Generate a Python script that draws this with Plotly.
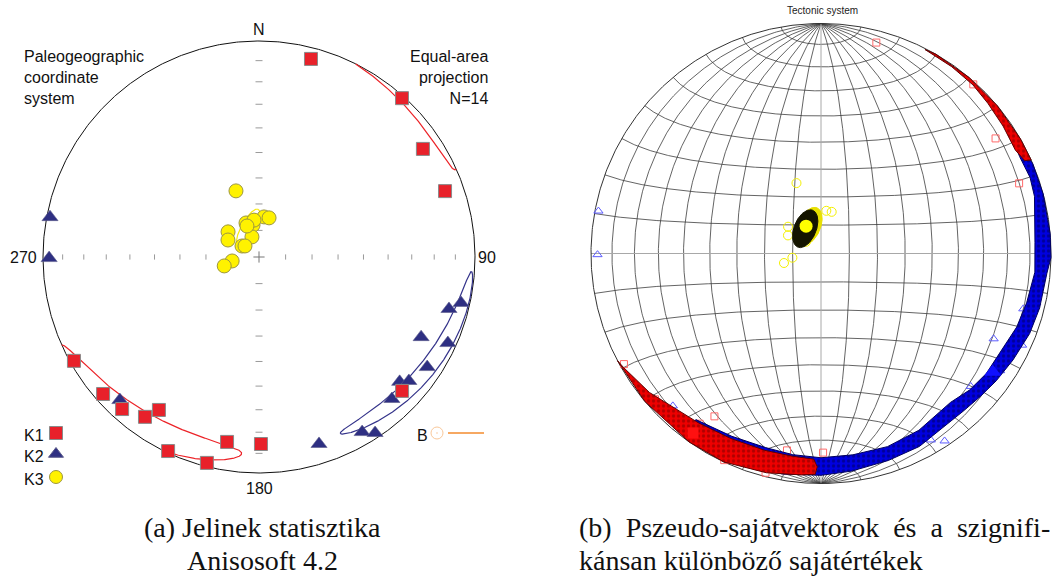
import numpy as np
import plotly.graph_objects as go

# ---- principal susceptibility axes of the 14 specimens (declination, inclination; degrees) ----
k1_dec = [14.7, 42.0, 56.6, 70.5, 240.7, 228.7, 222.0, 215.5, 213.2, 189.8, 179.4, 205.1, 194.2, 133.1]
k1_inc = [5.8, 1.2, 10.0, 9.5, 2.0, 4.4, 5.9, 10.0, 16.5, 14.2, 14.5, 0.9, 1.9, 10.2]
k2_dec = [280.8, 269.7, 102.8, 105.3, 116.3, 114.5, 123.2, 131.6, 129.6, 136.9, 224.2, 149.5, 146.6, 162.2]
k2_inc = [1.7, 3.2, 4.6, 9.7, 17.4, 4.4, 7.7, 14.0, 10.9, 10.9, 8.4, 6.6, 2.7, 10.0]
k3_dec = [340.8, 7.1, 14.4, 339.1, 349.4, 309.1, 298.7, 340.7, 302.9, 308.2, 261.6, 255.6, 352.3, 338.8]
k3_inc = [63.5, 74.8, 74.8, 76.3, 77.8, 75.0, 76.7, 82.0, 82.4, 83.3, 79.8, 76.5, 76.0, 77.5]

# ---- Jelinek mean axes and confidence ellipses (centre, semi-angles, tilt of the major axis) ----
ell_dec = [215.8, 124.3, 339.2]
ell_inc = [5.2, 7.3, 78.3]
ell_a = [30.8, 30.8, 8.0]
ell_b = [7.0, 4.0, 2.5]
ell_rot = [-10.2, 9.3, -41.0]

# ---- pseudo-eigenvector means ----
mean_dec = [215.5, 124.6, 331.4]
mean_inc = [4.7, 10.2, 79.0]

# ---- bootstrap clouds (outline of the pseudo-eigenvector swarms) ----
k1_ne_dec = [27, 35, 42, 48, 55, 59, 62, 65.5, 66, 60, 50, 40, 30, 27]
k1_ne_inc = [0.5, 1.0, 1.5, 2.7, 3.8, 4.6, 4.8, 3.0, 0, 0, 0, 0, 0, 0.5]
k1_sw_dec = [242.2, 240, 231, 222, 216, 206, 196, 188, 182, 181, 181.5, 185, 194, 205, 215, 230, 242.2]
k1_sw_inc = [0, 1, 4.5, 8.5, 10, 11.5, 12, 12, 11.5, 8, 4.5, 3.8, 2, 0, 0, 0, 0]
k2_cloud_dec = [61, 64, 67, 75, 85, 91, 95, 104, 111, 119, 126, 132, 138, 145, 153, 162, 172, 180, 190, 205, 217,
                217, 206, 196, 188, 180, 171, 161, 151, 139, 132.5, 126, 120.5, 110.6, 103.5, 95, 87, 80, 75, 70, 64, 61]
k2_cloud_inc = [3.8, 1, 0, 0, 0, 0, 1.6, 2.3, 3.2, 5.1, 6.5, 7.7, 8.5, 8.5, 6.5, 6, 5, 4, 3, 3, 6,
                10.5, 12.6, 13.3, 12.7, 12.2, 12.4, 12.2, 13.2, 15.3, 13.3, 12.2, 12.3, 10, 8.9, 7.4, 7.6, 6.3, 4.4, 3.7, 4.4, 3.8]
# K3 swarm: elliptical clouds (centre dec, inc, semi-angles, tilt)
k3_cloud = [(337.0, 79.5, 7.0, 3.9, -45.0), (327.5, 79.6, 7.0, 3.9, -36.0)]

inc_ticks = [10, 20, 30, 40, 50, 60, 70, 80]


def to_lower(dec, inc):
    dec = np.asarray(dec, float)
    inc = np.asarray(inc, float)
    up = inc < 0
    return np.where(up, dec + 180, dec) % 360, np.abs(inc)


def schmidt(dec, inc):
    """Lower-hemisphere equal-area projection, primitive radius 1."""
    dec, inc = to_lower(dec, inc)
    r = np.sqrt(2) * np.sin(np.radians(90 - inc) / 2)
    d = np.radians(dec)
    return r * np.sin(d), r * np.cos(d)


def split(x, y, jump=0.3):
    xs, ys = [x[0]], [y[0]]
    for i in range(1, len(x)):
        if np.hypot(x[i] - x[i - 1], y[i] - y[i - 1]) > jump:
            xs.append(None)
            ys.append(None)
        xs.append(x[i])
        ys.append(y[i])
    return xs, ys


def cone(dec0, inc0, a, b, rot, n=721):
    D, I = np.radians(dec0), np.radians(inc0)
    m = np.array([np.cos(I) * np.cos(D), np.cos(I) * np.sin(D), np.sin(I)])
    e_dec = np.array([-np.sin(D), np.cos(D), 0.0])
    e_inc = np.array([-np.sin(I) * np.cos(D), -np.sin(I) * np.sin(D), np.cos(I)])
    g = np.radians(rot)
    e1 = np.cos(g) * e_dec + np.sin(g) * e_inc
    e2 = -np.sin(g) * e_dec + np.cos(g) * e_inc
    t = np.linspace(0, 2 * np.pi, n)
    v = (m[:, None] + np.tan(np.radians(a)) * np.cos(t) * e1[:, None]
         + np.tan(np.radians(b)) * np.sin(t) * e2[:, None])
    v /= np.linalg.norm(v, axis=0)
    dec = np.degrees(np.arctan2(v[1], v[0])) % 360
    inc = np.degrees(np.arcsin(v[2]))
    return dec, inc


fig = go.Figure()

# =================== (a) Jelinek statistics panel ===================
LA = dict(xaxis="x", yaxis="y")
t = np.radians(np.linspace(0, 360, 721))
fig.add_trace(go.Scatter(x=np.sin(t), y=np.cos(t), mode="lines",
                         line=dict(color="#111111", width=1), hoverinfo="skip", **LA))

# inclination ticks along the N-S and E-W diameters
rt = np.sqrt(2) * np.sin(np.radians(90 - np.array(inc_ticks)) / 2)
tx, ty = [], []
h = 2.6 / 216
w = 3.5 / 216
for r in rt:
    for s in (-1, 1):
        tx += [s * r, s * r, None]
        ty += [-h, h, None]
        tx += [-w, w, None]
        ty += [s * r, s * r, None]
fig.add_trace(go.Scatter(x=tx, y=ty, mode="lines", line=dict(color="#9a9a9a", width=1),
                         hoverinfo="skip", **LA))
fig.add_trace(go.Scatter(x=[0], y=[0], mode="markers",
                         marker=dict(symbol="cross-thin", size=8, line=dict(color="#777777", width=1)),
                         hoverinfo="skip", **LA))

ell_cols = ["#ec2227", "#34338a", "#f7ea10"]
for i in range(3):
    d, ic = cone(ell_dec[i], ell_inc[i], ell_a[i], ell_b[i], ell_rot[i])
    x, y = schmidt(d, ic)
    xs, ys = split(x, y)
    fig.add_trace(go.Scatter(x=xs, y=ys, mode="lines", line=dict(color=ell_cols[i], width=1.2),
                             hoverinfo="skip", **LA))

x3, y3 = schmidt(k3_dec, k3_inc)
fig.add_trace(go.Scatter(x=x3, y=y3, mode="markers", name="K3",
                         marker=dict(symbol="circle", size=14, color="#fff200",
                                     line=dict(color="#9c9640", width=1)), **LA))
x2, y2 = schmidt(k2_dec, k2_inc)
fig.add_trace(go.Scatter(x=x2, y=y2, mode="markers", name="K2",
                         marker=dict(symbol="triangle-up", size=14, color="#2e2f82",
                                     line=dict(color="#5a5a8a", width=0.6)), **LA))
x1, y1 = schmidt(k1_dec, k1_inc)
fig.add_trace(go.Scatter(x=x1, y=y1, mode="markers", name="K1",
                         marker=dict(symbol="square", size=13, color="#e8212a",
                                     line=dict(color="#8a8a8a", width=1)), **LA))

# legend keys (text left, symbol right)
U = 216.0
def pa(px, py):
    return (px - 259) / U, (257 - py) / U

leg = [("K1", 433, "square", "#e8212a", "#8a8a8a", 13),
       ("K2", 454, "triangle-up", "#2e2f82", "#5a5a8a", 13),
       ("K3", 477, "circle", "#fff200", "#9c9640", 13)]
for name, py, sym, col, ec, sz in leg:
    kx, ky = pa(56, py)
    fig.add_trace(go.Scatter(x=[kx], y=[ky], mode="markers",
                             marker=dict(symbol=sym, size=sz, color=col, line=dict(color=ec, width=1)),
                             hoverinfo="skip", **LA))
    ax_, ay_ = pa(22, py + 2)
    fig.add_annotation(x=ax_, y=ay_, xref="x", yref="y", text=name, showarrow=False,
                       xanchor="left", yanchor="middle",
                       font=dict(family="Liberation Sans, Arial", size=16, color="#111"))

# bedding symbol "B"
bx, by = pa(437, 433)
fig.add_trace(go.Scatter(x=[bx], y=[by], mode="markers",
                         marker=dict(symbol="circle-dot", size=12, color="rgba(0,0,0,0)",
                                     line=dict(color="#f9c89a", width=1)), hoverinfo="skip", **LA))
l0 = pa(448, 433)
l1 = pa(484, 433)
fig.add_trace(go.Scatter(x=[l0[0], l1[0]], y=[l0[1], l1[1]], mode="lines",
                         line=dict(color="#f6a862", width=2), hoverinfo="skip", **LA))
p = pa(422, 435)
fig.add_annotation(x=p[0], y=p[1], xref="x", yref="y", text="B", showarrow=False,
                   xanchor="center", yanchor="middle",
                   font=dict(family="Liberation Sans, Arial", size=16, color="#111"))

sans = dict(family="Liberation Sans, Arial", size=16, color="#111")
for txt, px, py in [("N", 259, 29), ("270", 23.5, 257), ("90", 487, 257), ("180", 259, 488)]:
    q = pa(px, py)
    fig.add_annotation(x=q[0], y=q[1], xref="x", yref="y", text=txt, showarrow=False,
                       xanchor="center", yanchor="middle", font=sans)
q = pa(22, 77)
fig.add_annotation(x=q[0], y=q[1], xref="x", yref="y", text="Paleogeographic<br>coordinate<br>system",
                   showarrow=False, xanchor="left", yanchor="middle", align="left", font=sans)
q = pa(490, 77)
fig.add_annotation(x=q[0], y=q[1], xref="x", yref="y", text="Equal-area<br>projection<br>N=14",
                   showarrow=False, xanchor="right", yanchor="middle", align="right", font=sans)

# =================== (b) pseudo-eigenvector panel ===================
RB = dict(xaxis="x2", yaxis="y2")
gx, gy = [], []
lat = np.radians(np.linspace(-90, 90, 361))
for lon in range(-80, 81, 10):
    if lon == 0:
        continue
    l = np.radians(lon)
    k = 1 / np.sqrt(1 + np.cos(lat) * np.cos(l))
    gx += list(k * np.cos(lat) * np.sin(l)) + [None]
    gy += list(k * np.sin(lat)) + [None]
lon = np.radians(np.linspace(-90, 90, 361))
for la in range(-80, 81, 10):
    if la == 0:
        continue
    p_ = np.radians(la)
    k = 1 / np.sqrt(1 + np.cos(p_) * np.cos(lon))
    gx += list(k * np.cos(p_) * np.sin(lon)) + [None]
    gy += list(k * np.sin(p_) * np.ones_like(lon)) + [None]
fig.add_trace(go.Scatter(x=gx, y=gy, mode="lines", line=dict(color="#3c3c3c", width=0.8),
                         hoverinfo="skip", **RB))
fig.add_trace(go.Scatter(x=[-1, 1, None, 0, 0], y=[0, 0, None, -1, 1], mode="lines",
                         line=dict(color="#a8a8a8", width=1), hoverinfo="skip", **RB))
fig.add_trace(go.Scatter(x=np.sin(t), y=np.cos(t), mode="lines",
                         line=dict(color="#333333", width=1), hoverinfo="skip", **RB))

# individual specimen axes (open symbols)
fig.add_trace(go.Scatter(x=x3, y=y3, mode="markers",
                         marker=dict(symbol="circle-open", size=9, color="#f4f000", line=dict(width=1)), **RB))
fig.add_trace(go.Scatter(x=x2, y=y2, mode="markers",
                         marker=dict(symbol="triangle-up-open", size=8, color="#5c5cff", line=dict(width=1)), **RB))
fig.add_trace(go.Scatter(x=x1, y=y1, mode="markers",
                         marker=dict(symbol="square-open", size=7, color="#ff6a6a", line=dict(width=1)), **RB))

# bootstrap swarms
bx_, by_ = schmidt(k2_cloud_dec, k2_cloud_inc)
fig.add_trace(go.Scatter(x=bx_, y=by_, mode="lines", fill="toself", fillcolor="#0000d8",
                         line=dict(color="#000060", width=1),
                         fillpattern=dict(shape=".", fgcolor="#000050", bgcolor="#0000e0", size=5, solidity=0.35),
                         hoverinfo="skip", **RB))
for cd, ci in [(k1_ne_dec, k1_ne_inc), (k1_sw_dec, k1_sw_inc)]:
    cx, cy = schmidt(cd, ci)
    fig.add_trace(go.Scatter(x=cx, y=cy, mode="lines", fill="toself", fillcolor="#e80000",
                             line=dict(color="#600000", width=1),
                             fillpattern=dict(shape=".", fgcolor="#700000", bgcolor="#ee0000", size=5, solidity=0.35),
                             hoverinfo="skip", **RB))
for (cd, ci, a, b, rot), col in zip(k3_cloud, ["#e8e000", "#141400"]):
    d, ic = cone(cd, ci, a, b, rot, n=181)
    cx, cy = schmidt(d, ic)
    fig.add_trace(go.Scatter(x=cx, y=cy, mode="lines", fill="toself", fillcolor=col,
                             line=dict(color=col, width=1), hoverinfo="skip", **RB))

# pseudo-eigenvector means
mx, my = schmidt(mean_dec, mean_inc)
for i, (sym, col, sz) in enumerate([("square", "#ff1010", 11), ("triangle-up", "#1010ff", 15),
                                      ("circle", "#ffff00", 13)]):
    fig.add_trace(go.Scatter(x=[mx[i]], y=[my[i]], mode="markers",
                             marker=dict(symbol=sym, size=sz, color=col, line=dict(width=0)), **RB))

fig.add_annotation(x=822 / 1063, y=1 - 11 / 577, xref="paper", yref="paper", text="Tectonic system",
                   showarrow=False, xanchor="center", yanchor="middle",
                   font=dict(family="Liberation Sans, Arial", size=10, color="#222"))

# captions (the first line of (b) is justified in the source layout)
serif = dict(family="Liberation Serif, DejaVu Serif", size=28, color="#111")
sp = "&nbsp;&nbsp;"
for txt, px, py, anc in [("(a) Jelinek statisztika", 262, 527, "center"),
                         ("Anisosoft 4.2", 262, 560, "center"),
                         (sp.join(["(b)", "Pszeudo-sajátvektorok", "és", "a", "szignifi-"]), 577, 527, "left"),
                         ("kánsan különböző sajátértékek", 577, 560, "left")]:
    fig.add_annotation(x=px / 1063, y=1 - py / 577, xref="paper", yref="paper", text=txt,
                       showarrow=False, xanchor=anc, yanchor="middle", font=serif)

fig.update_layout(
    width=1063, height=577, margin=dict(l=0, r=0, t=0, b=0), autosize=False,
    paper_bgcolor="white", plot_bgcolor="white", showlegend=False,
    xaxis=dict(domain=[9 / 1063, 509 / 1063], range=[-250 / 216, 250 / 216], visible=False),
    yaxis=dict(domain=[70 / 577, 570 / 577], range=[-250 / 216, 250 / 216], visible=False),
    xaxis2=dict(domain=[581 / 1063, 1061 / 1063], range=[-240 / 230, 240 / 230], visible=False),
    yaxis2=dict(domain=[83.5 / 577, 563.5 / 577], range=[-240 / 230, 240 / 230], visible=False),
)
fig.write_html("out.html")
